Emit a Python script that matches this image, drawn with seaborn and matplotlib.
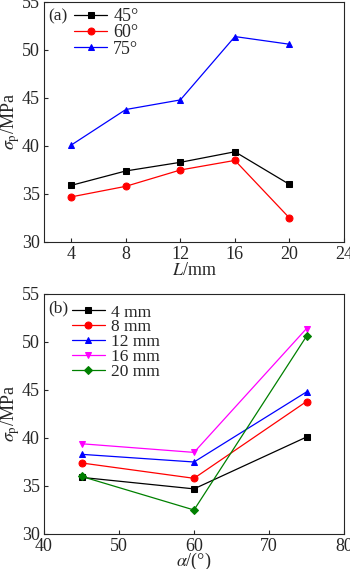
import numpy as np
import pandas as pd
import seaborn as sns
import matplotlib.pyplot as plt

# panel (a): strength vs L for three angles
L_values = [4, 8, 12, 16, 20]
s_45 = [35.9, 37.4, 38.3, 39.4, 36.0]
s_60 = [34.7, 35.8, 37.5, 38.5, 32.5]
s_75 = [40.1, 43.8, 44.8, 51.4, 50.6]
angle_labels = ['45°', '60°', '75°']

# panel (b): strength vs angle for five lengths
alpha_values = [45, 60, 75]
len_labels = ['4 mm', '8 mm', '12 mm', '16 mm', '20 mm']

sns.set_style('ticks')
plt.rcParams['font.family'] = ['Liberation Serif', 'DejaVu Serif']
plt.rcParams['mathtext.fontset'] = 'stix'
plt.rcParams['xtick.direction'] = 'in'
plt.rcParams['ytick.direction'] = 'in'

fig = plt.figure(figsize=(3.5, 5.69), dpi=100)
ax1 = fig.add_axes([44/350, 1 - 242/569, 300/350, 240/569])
ax2 = fig.add_axes([44/350, 1 - 534/569, 300/350, 240/569])

colors_a = ['black', 'red', 'blue']
markers_a = ['s', 'o', '^']
for ys, lab, c, m in zip([s_45, s_60, s_75], angle_labels, colors_a, markers_a):
    sns.lineplot(x=L_values, y=ys, ax=ax1, color=c, marker=m, markersize=5,
                 markeredgecolor=c, linewidth=0.9, label=lab)

ax1.set_xlim(2, 24)
ax1.set_ylim(30, 55)
ax1.set_xticks([4, 8, 12, 16, 20, 24])
ax1.set_yticks([30, 35, 40, 45, 50, 55])
ax1.set_xlabel('$L$/mm', fontsize=13, labelpad=-1)
ax1.set_ylabel(r'$\sigma_{\rm p}$/MPa', fontsize=13)
ax1.legend(loc='upper left', bbox_to_anchor=(0.065, 1.02), frameon=False,
           fontsize=13, handlelength=1.8, labelspacing=-0.04, borderaxespad=0.2,
           handletextpad=0.35)
ax1.text(0.015, 0.975, '(a)', transform=ax1.transAxes, fontsize=12.5, va='top')

# reorganise panel (a) data for panel (b)
table = pd.DataFrame({'45': s_45, '60': s_60, '75': s_75}, index=len_labels)
colors_b = ['black', 'red', 'blue', 'magenta', 'green']
markers_b = ['s', 'o', '^', 'v', 'D']
for lab, c, m in zip(len_labels, colors_b, markers_b):
    ys = table.loc[lab].values
    sns.lineplot(x=alpha_values, y=ys, ax=ax2, color=c, marker=m,
                 markersize=5 if m != 'D' else 4.5, markeredgecolor=c,
                 linewidth=0.9, label=lab)

ax2.set_xlim(40, 80)
ax2.set_ylim(30, 55)
ax2.set_xticks([40, 50, 60, 70, 80])
ax2.set_yticks([30, 35, 40, 45, 50, 55])
ax2.set_xlabel(r'$\alpha$/(°)', fontsize=13, labelpad=-3)
ax2.set_ylabel(r'$\sigma_{\rm p}$/MPa', fontsize=13)
ax2.legend(loc='upper left', bbox_to_anchor=(0.06, 1.0), frameon=False,
           fontsize=12.5, handlelength=1.85, labelspacing=-0.08, borderaxespad=0.2,
           handletextpad=0.35)
ax2.text(0.015, 0.975, '(b)', transform=ax2.transAxes, fontsize=12.5, va='top')

for ax in (ax1, ax2):
    ax.tick_params(labelsize=13, length=3, width=0.8, pad=3)
    ax.yaxis.set_label_coords(-0.072, 0.5)
    for sp in ax.spines.values():
        sp.set_visible(True)
        sp.set_linewidth(0.8)

fig.savefig('out.png', dpi=100)
